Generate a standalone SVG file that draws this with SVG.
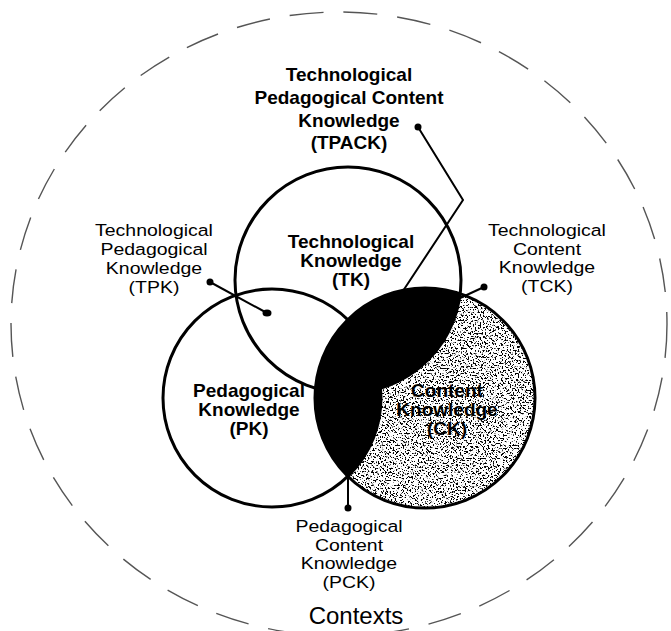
<svg xmlns="http://www.w3.org/2000/svg" width="671" height="631" viewBox="0 0 671 631">
<style>
.lbl{font-family:"Liberation Sans",Arial,sans-serif;font-size:20px;fill:#000;text-anchor:middle}
.bold{font-weight:bold;font-size:19px}
.reg{font-size:16.5px}
.ctx{font-size:24px}
.circ{fill:none;stroke:#000;stroke-width:3}
.conn{fill:none;stroke:#000;stroke-width:2}
.dot{fill:#000}
</style>
<defs>
<filter id="noise" x="0" y="0" width="1" height="1" filterUnits="objectBoundingBox">
<feTurbulence type="fractalNoise" baseFrequency="0.6" numOctaves="3" seed="7"/>
<feColorMatrix type="matrix" values="0 0 0 0 0  0 0 0 0 0  0 0 0 0 0  -14 0 0 0 6.3"/>
</filter>
<mask id="ckOnly" maskUnits="userSpaceOnUse" x="0" y="0" width="671" height="631">
<circle cx="425" cy="398" r="110" fill="#fff"/>
<circle cx="348" cy="280" r="113" fill="#000"/>
<circle cx="272" cy="398" r="109" fill="#000"/>
</mask>
<clipPath id="ckClip"><circle cx="425" cy="398" r="110"/></clipPath>
</defs>
<rect width="671" height="631" fill="#fff"/>
<ellipse id="contexts-ring" cx="339" cy="324" rx="328" ry="312" fill="none" stroke="#555" stroke-width="1.4" stroke-dasharray="34 20"/>
<g id="CK">
<rect x="310" y="285" width="230" height="230" fill="#fff" filter="url(#noise)" mask="url(#ckOnly)"/>
<g clip-path="url(#ckClip)">
<circle cx="348" cy="280" r="113" fill="#000"/>
<circle cx="272" cy="398" r="109" fill="#000"/>
</g>
<circle class="circ" cx="425" cy="398" r="110"/>
<text class="lbl bold" x="447" y="397">Content</text>
<text class="lbl bold" x="447" y="416">Knowledge</text>
<text class="lbl bold" x="447" y="435">(CK)</text>
</g>
<g id="TK">
<circle class="circ" cx="348" cy="280" r="113"/>
<text class="lbl bold" x="351" y="248">Technological</text>
<text class="lbl bold" x="351" y="267">Knowledge</text>
<text class="lbl bold" x="351" y="286">(TK)</text>
</g>
<g id="PK">
<circle class="circ" cx="272" cy="398" r="109"/>
<text class="lbl bold" x="249" y="397">Pedagogical</text>
<text class="lbl bold" x="249" y="416">Knowledge</text>
<text class="lbl bold" x="249" y="435">(PK)</text>
</g>
<g id="connectors">
<polyline class="conn" points="418,127 463,200 397,300"/>
<line class="conn" x1="210" y1="282" x2="267" y2="313"/>
<line class="conn" x1="484" y1="287" x2="458" y2="299"/>
<line class="conn" x1="348" y1="476" x2="348" y2="508"/>
<circle class="dot" cx="418" cy="127" r="3.5"/>
<circle class="dot" cx="210" cy="282" r="3.5"/>
<ellipse class="dot" cx="267" cy="313" rx="4.5" ry="3.5"/>
<circle class="dot" cx="484" cy="287" r="3.5"/>
<circle class="dot" cx="348" cy="508" r="3.5"/>
</g>
<g id="TPACK">
<text class="lbl bold" x="349" y="81">Technological</text>
<text class="lbl bold" x="349" y="104">Pedagogical Content</text>
<text class="lbl bold" x="349" y="127">Knowledge</text>
<text class="lbl bold" x="349" y="149">(TPACK)</text>
</g>
<g id="TPK" transform="translate(154,0) scale(1.18,1)">
<text class="lbl reg" x="0" y="236">Technological</text>
<text class="lbl reg" x="0" y="255">Pedagogical</text>
<text class="lbl reg" x="0" y="274">Knowledge</text>
<text class="lbl reg" x="0" y="293">(TPK)</text>
</g>
<g id="TCK" transform="translate(547,0) scale(1.18,1)">
<text class="lbl reg" x="0" y="236">Technological</text>
<text class="lbl reg" x="0" y="255">Content</text>
<text class="lbl reg" x="0" y="273">Knowledge</text>
<text class="lbl reg" x="0" y="292">(TCK)</text>
</g>
<g id="PCK" transform="translate(349,0) scale(1.18,1)">
<text class="lbl reg" x="0" y="532">Pedagogical</text>
<text class="lbl reg" x="0" y="551">Content</text>
<text class="lbl reg" x="0" y="569">Knowledge</text>
<text class="lbl reg" x="0" y="588">(PCK)</text>
</g>
<g id="Contexts">
<text class="lbl ctx" x="356" y="624">Contexts</text>
</g>
</svg>
